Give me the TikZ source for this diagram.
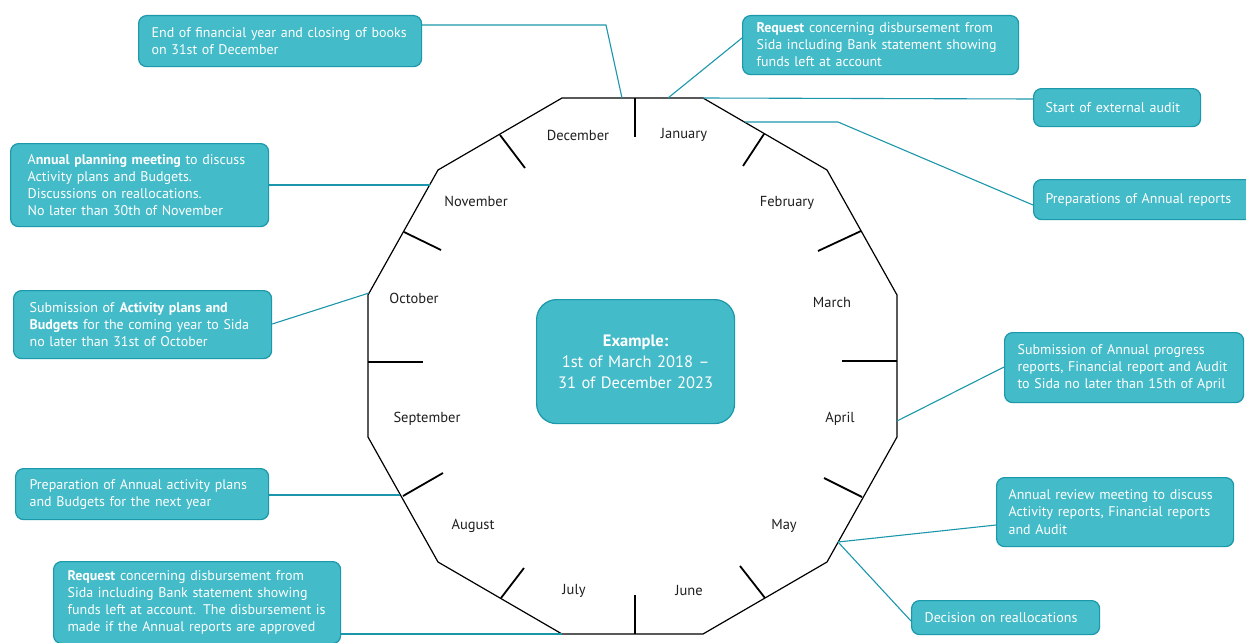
\documentclass[tikz,border=0pt]{standalone}
\usepackage{fontspec}
\setmainfont{PT Sans}
\usetikzlibrary{calc}
\definecolor{boxfill}{RGB}{67,187,200}
\definecolor{boxline}{RGB}{27,152,170}
\definecolor{connc}{RGB}{27,150,170}
\definecolor{monthc}{RGB}{30,30,30}
\begin{document}
\begin{tikzpicture}[x=1pt,y=-1pt,
  box/.style={draw=boxline, fill=boxfill, line width=1.2pt, rounded corners=8pt,
    text=white, align=left, anchor=north west, inner xsep=13pt, inner ysep=0pt,
    font=\fontsize{14}{17}\selectfont},
  conn/.style={draw=connc, line width=1.1pt},
  month/.style={font=\fontsize{14.5}{16}\selectfont, text=monthc},
  tickline/.style={line width=1.8pt, black},
  poly/.style={line width=1.2pt, black}]
\useasboundingbox (0,0) rectangle (1246,642);

% dodecagon
\coordinate (V1) at (703,98);
\coordinate (V2) at (827,170);
\coordinate (V3) at (897,295);
\coordinate (V4) at (897,437);
\coordinate (V5) at (827,562);
\coordinate (V6) at (703,634);
\coordinate (V7) at (562,634);
\coordinate (V8) at (438,562);
\coordinate (V9) at (368,437);
\coordinate (V10) at (368,295);
\coordinate (V11) at (438,170);
\coordinate (V12) at (562,98);
\draw[poly] (V1)--(V2)--(V3)--(V4)--(V5)--(V6)--(V7)--(V8)--(V9)--(V10)--(V11)--(V12)--cycle;

% ticks
\draw[tickline] (635,98)--(635,137);
\draw[tickline] (764,134)--(743,166);
\draw[tickline] (861,231)--(818,251);
\draw[tickline] (897,361)--(842,361);
\draw[tickline] (862,497)--(824,478);
\draw[tickline] (765,598)--(740,566);
\draw[tickline] (635,634)--(635,595);
\draw[tickline] (501,598)--(524,568);
\draw[tickline] (403,496)--(443,473);
\draw[tickline] (368,362)--(423,362);
\draw[tickline] (404,232)--(441,250);
\draw[tickline] (500,135)--(525,168);

% months
\node[month] (mDec) at (578,135) {December};
\node[month] (mJan) at (684,135) {January};
\node[month] (mFeb) at (787,203) {February};
\node[month] (mMar) at (832,303) {March};
\node[month] (mApr) at (840,419) {April};
\node[month] (mMay) at (784,526) {May};
\node[month] (mJun) at (689,591) {June};
\node[month] (mJul) at (574,591) {July};
\node[month] (mAug) at (473,526) {August};
\node[month] (mSep) at (427,419) {September};
\node[month] (mOct) at (414,298) {October};
\node[month] (mNov) at (476,201) {November};

% boxes
\node[box, text width=257pt, minimum height=51pt] (b1) at (138,15)
  {End of financial year and closing of books\\on 31st of December};
\node[box, inner xsep=14pt, text width=248pt, minimum height=59pt] (b2) at (742,15)
  {\textbf{Request} concerning disbursement from\\Sida including Bank statement showing\\funds left at account};
\node[box, inner xsep=12pt, text width=143pt, minimum height=38pt] (b3) at (1033,88)
  {Start of external audit};
\node[box, inner xsep=12pt, text width=216pt, minimum height=40pt] (b4) at (1033,179)
  {Preparations of Annual reports};
\node[box, inner xsep=17pt, text width=224pt, minimum height=83pt] (b5) at (10,143)
  {A\textbf{nnual planning meeting} to discuss\\Activity plans and Budgets.\\Discussions on reallocations.\\No later than 30th of November};
\node[box, inner xsep=16pt, text width=226pt, minimum height=68pt] (b6) at (13,290)
  {Submission of \textbf{Activity plans and}\\\textbf{Budgets} for the coming year to Sida\\no later than 31st of October};
\node[box, rounded corners=20pt, align=center, inner xsep=0pt, text width=198pt, minimum height=124pt,
  font=\fontsize{16.5}{21}\selectfont] (b7) at (536,299)
  {\textbf{Example:}\\1st of March 2018 --\\31 of December 2023};
\node[box, text width=213pt, minimum height=70pt] (b8) at (1004,332)
  {Submission of Annual progress\\reports, Financial report and Audit\\to Sida no later than 15th of April};
\node[box, inner xsep=14pt, text width=225pt, minimum height=51pt] (b9) at (15,468)
  {Preparation of Annual activity plans\\and Budgets for the next year};
\node[box, inner xsep=12pt, text width=213pt, minimum height=69pt] (b10) at (996,477)
  {Annual review meeting to discuss\\Activity reports, Financial reports\\and Audit};
\node[box, text width=162pt, minimum height=34pt] (b11) at (911,600)
  {Decision on reallocations};
\node[box, inner xsep=14pt, text width=259pt, minimum height=82pt] (b12) at (53,561)
  {\textbf{Request} concerning disbursement from\\Sida including Bank statement showing\\funds left at account. The disbursement is\\made if the Annual reports are approved};

% connector end points on the polygon
\coordinate (p1) at (622,98);
\coordinate (k1) at (606,25);
\coordinate (p2) at (668,98);
\coordinate (p4) at (745,122);
\coordinate (k4) at (838,122);
\coordinate (p5) at (430,185);
\coordinate (p6) at (369,293);
\coordinate (p7) at (897,421);
\coordinate (p8) at (400,495);
\coordinate (p9) at (838,542);
\coordinate (p11) at (562,634);

% connectors
\draw[conn] (b1.east |- k1) -- (k1) -- (p1);
\draw[conn] (b2.west |- 0,38) -- (p2);
\draw[conn] (V1) -- (b3.west |- 0,99);
\draw[conn] (p4) -- (k4) -- (b4.west |- 0,205);
\draw[conn] (b5.east |- p5) -- (p5);
\draw[conn] (b6.east |- 0,324) -- (p6);
\draw[conn] (b8.west |- 0,367) -- (p7);
\draw[conn] (b9.east |- p8) -- (p8);
\draw[conn] (b10.west |- 0,525) -- (p9);
\draw[conn] (b11.west |- 0,621) -- (p9);
\draw[conn] (b12.east |- p11) -- (p11);
\end{tikzpicture}
\end{document}
